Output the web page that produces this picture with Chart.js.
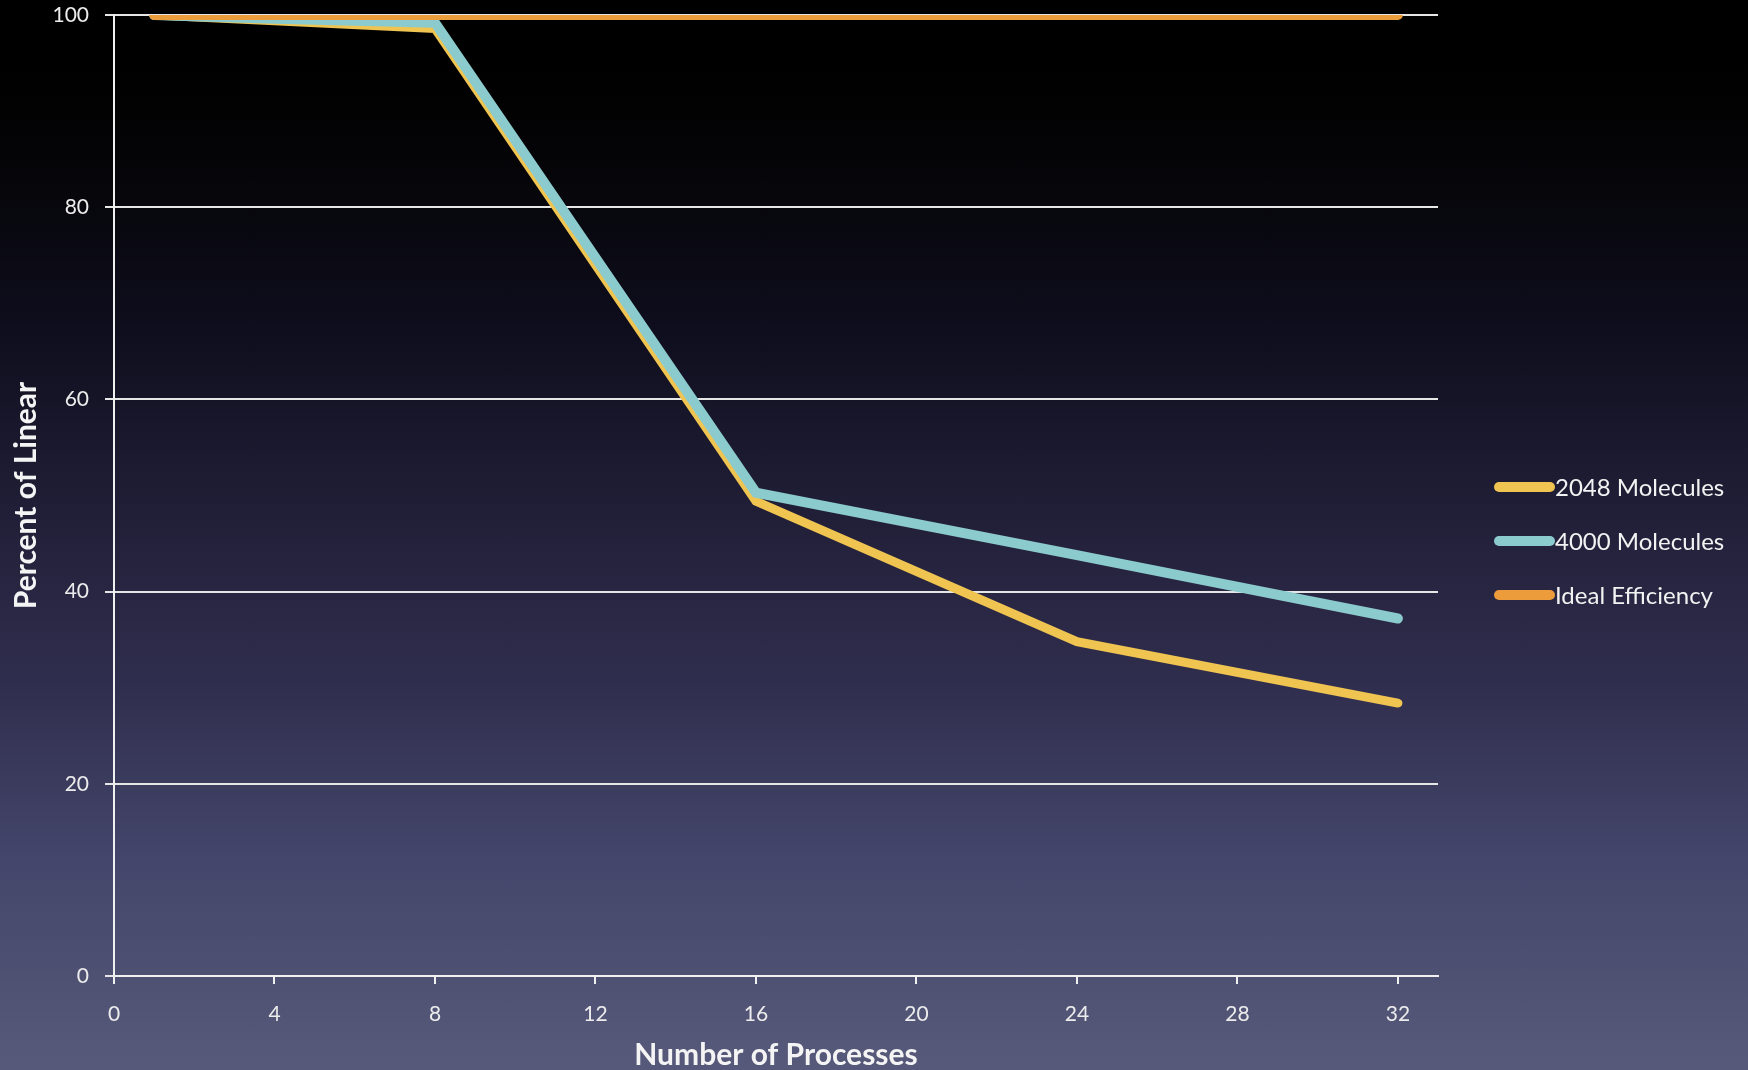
<!DOCTYPE html>
<html>
<head>
<meta charset="utf-8">
<script src="https://cdn.jsdelivr.net/npm/chart.js@4.4.1/dist/chart.umd.min.js"></script>
<style>
  html, body { margin: 0; padding: 0; }
  body {
    width: 1748px; height: 1070px; overflow: hidden;
    background: linear-gradient(to bottom,
      #000000 0%, #000000 6%, #040406 14%, #0e0d1c 30%, #1e1c33 45%,
      #302e4e 64%, #43456a 80%, #555878 98%, #565979 100%);
  }
  #wrap { position: relative; width: 1748px; height: 1070px; }
</style>
</head>
<body>
<div id="wrap"><canvas id="chart" width="1748" height="1070"></canvas></div>
<script>
// Number of processes at each measurement
const processes = [1, 4, 8, 16, 24, 32];
// Parallel efficiency, percent of linear speedup
const molecules2048 = [100, 99.4, 98.6, 49.4, 34.8, 28.4];
const molecules4000 = [100, 99.6, 99.2, 50.3, 43.8, 37.2];
const idealEfficiency = [100, 100, 100, 100, 100, 100];
const xTicks = [0, 4, 8, 12, 16, 20, 24, 28, 32];
const yTicks = [0, 20, 40, 60, 80, 100];

const seriesLabels = ['2048 Molecules', '4000 Molecules', 'Ideal Efficiency'];
const seriesColors = ['#efc451', '#8ccbcd', '#ec9c3b'];

const toPoints = (vals) => vals.map((v, i) => ({ x: processes[i], y: v }));

// Legend drawn to the right of the plot, one swatch line per series
const sideLegend = {
  id: 'sideLegend',
  afterDraw(chart) {
    const ctx = chart.ctx;
    const rows = [487, 541, 595];
    ctx.save();
    chart.data.datasets.forEach((ds, i) => {
      const y = rows[i];
      ctx.strokeStyle = ds.borderColor;
      ctx.lineWidth = 10;
      ctx.lineCap = 'round';
      ctx.beginPath();
      ctx.moveTo(1499, y);
      ctx.lineTo(1550, y);
      ctx.stroke();
      ctx.fillStyle = '#f2f2f2';
      ctx.font = '24px Lato, "Open Sans", sans-serif';
      ctx.textBaseline = 'middle';
      ctx.textAlign = 'left';
      ctx.fillText(ds.label, 1555, y + 1);
    });
    ctx.restore();
  }
};

const tickFont = { family: 'Lato, "Open Sans", sans-serif', size: 21 };

new Chart(document.getElementById('chart'), {
  type: 'line',
  data: {
    datasets: [
      { label: seriesLabels[0], data: toPoints(molecules2048), borderColor: seriesColors[0], borderWidth: 9, order: 3 },
      { label: seriesLabels[1], data: toPoints(molecules4000), borderColor: seriesColors[1], borderWidth: 10, order: 2 },
      { label: seriesLabels[2], data: toPoints(idealEfficiency), borderColor: seriesColors[2], borderWidth: 10, order: 1 }
    ]
  },
  options: {
    responsive: false,
    animation: false,
    layout: { padding: { top: 15, right: 310, left: 0, bottom: 0 } },
    elements: {
      line: { tension: 0, borderCapStyle: 'round', borderJoinStyle: 'miter', fill: false },
      point: { radius: 0, hoverRadius: 0 }
    },
    plugins: {
      legend: { display: false },
      tooltip: { enabled: false }
    },
    scales: {
      x: {
        type: 'linear',
        min: 0,
        max: 33,
        afterBuildTicks: (scale) => { scale.ticks = xTicks.map(v => ({ value: v })); },
        afterFit: (scale) => { scale.height = 94; scale.paddingLeft = 0; scale.paddingRight = 0; },
        border: { display: true, color: '#f0f0f0', width: 2 },
        grid: { drawOnChartArea: false, drawTicks: true, tickLength: 8, color: '#f0f0f0', lineWidth: 2 },
        ticks: { color: '#ececec', font: tickFont, padding: 18, maxRotation: 0 },
        title: {
          display: true,
          text: 'Number of Processes',
          color: '#f4f4f4',
          font: { family: 'Lato, "Open Sans", sans-serif', size: 30, weight: 'bold' },
          padding: { top: 4, bottom: -3 }
        }
      },
      y: {
        min: 0,
        max: 100,
        afterBuildTicks: (scale) => { scale.ticks = yTicks.map(v => ({ value: v })); },
        afterFit: (scale) => { scale.width = 114; scale.paddingTop = 0; scale.paddingBottom = 0; },
        border: { display: true, color: '#f0f0f0', width: 2 },
        grid: { drawOnChartArea: true, drawTicks: true, tickLength: 9, color: '#e6e6e6', lineWidth: 2 },
        ticks: { color: '#ececec', font: tickFont, padding: 16 },
        title: {
          display: true,
          text: 'Percent of Linear',
          color: '#f4f4f4',
          font: { family: 'Lato, "Open Sans", sans-serif', size: 30, weight: 'bold' },
          padding: { top: 8, bottom: 8 }
        }
      }
    }
  },
  plugins: [sideLegend]
});
</script>
</body>
</html>
